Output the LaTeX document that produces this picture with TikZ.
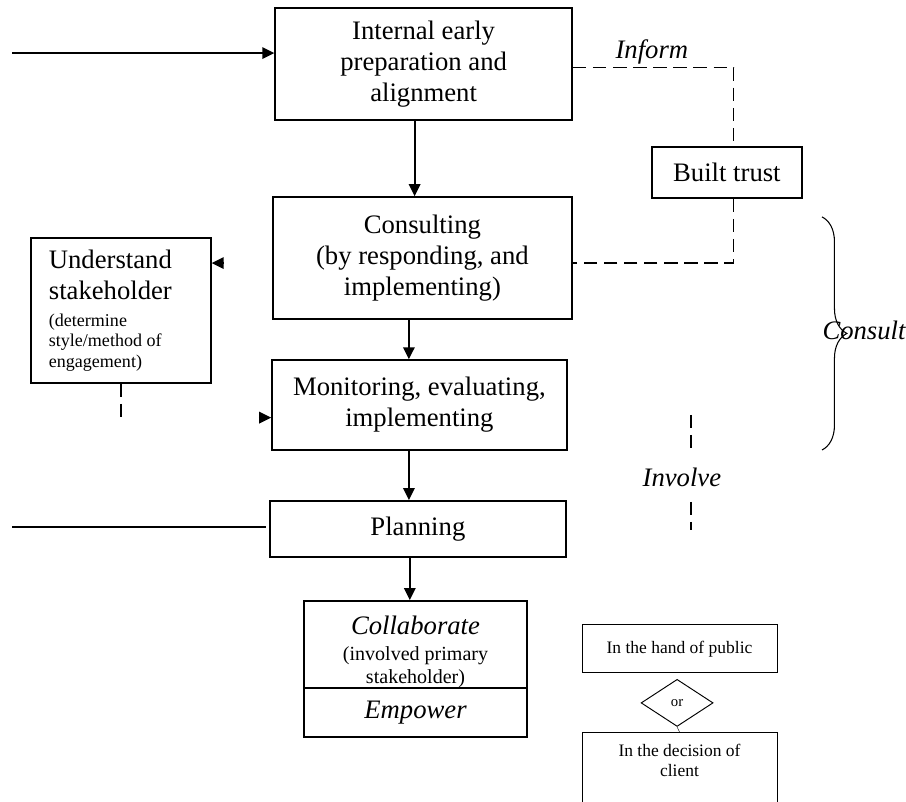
\documentclass[tikz,border=0pt]{standalone}
\usepackage{fontspec}
\setmainfont{Liberation Serif}
\usetikzlibrary{shapes,arrows.meta,positioning,calc,decorations.pathreplacing}

\newcommand\boxfont{\fontsize{25.3}{29.4}\selectfont}
\newcommand\notefont{\fontsize{17.1}{19.4}\selectfont}
\newcommand\subfont{\fontsize{19}{21.8}\selectfont}
\newcommand\sidefont{\fontsize{16.6}{19}\selectfont}

\begin{document}
\begin{tikzpicture}[
box/.style={
    draw,
    rectangle,
    line width=1.4pt,
    align=flush center,
    inner sep=0pt,
    font=\boxfont
},
thinbox/.style={
    draw,
    rectangle,
    line width=0.9pt,
    align=flush center,
    inner sep=0pt,
    font=\sidefont
},
flow/.style={-{Triangle[length=0.4cm,width=0.38cm]}, line width=1.8pt},
dashline/.style={dash pattern=on 0.45cm off 0.22cm, line width=1.2pt},
every node/.style={font=\boxfont}
]
\useasboundingbox (0,0) rectangle (30.2,26.7);
\clip (0,0) rectangle (30.2,26.7);

\node[box, minimum width=9.9cm, minimum height=3.73cm] (prep) at (14.12,24.57)
    {Internal early\\preparation and\\alignment};

\node[box, minimum width=9.97cm, minimum height=4.07cm] (consulting) at (14.08,18.1)
    {Consulting\\(by responding, and\\implementing)};

\node[box, minimum width=9.83cm, minimum height=3.0cm] (monitoring) at (13.98,13.2)
    {Monitoring, evaluating,\\implementing};

\node[box, minimum width=9.87cm, minimum height=1.87cm] (planning) at (13.93,9.07)
    {Planning};

\node[box, minimum width=7.43cm, minimum height=2.9cm, text width=7.0cm] (collab) at (13.85,5.22)
    {{\rule{0pt}{1.09cm}\itshape Collaborate\par}\vspace{3pt}{\subfont (involved primary\\stakeholder)\par}};

\node[box, minimum width=7.43cm, minimum height=1.63cm] (empower) at (13.85,2.95)
    {\itshape Empower};

\node[box, align=flush left, text width=4.8cm, inner xsep=0.6cm, minimum width=6cm,
      minimum height=4.83cm] (understand) at (4.03,16.35)
    {Understand\\stakeholder\par\vspace{6pt}{\notefont (determine\\style/method of\\engagement)\par}};

\node[box, minimum width=5.0cm, minimum height=1.7cm] (trust) at (24.23,20.95)
    {Built trust};

\node[thinbox, minimum width=6.5cm, minimum height=1.6cm] (public) at (22.65,5.07)
    {In the hand of public};

\node[draw, diamond, line width=0.9pt, minimum width=2.4cm, minimum height=1.57cm,
      inner sep=0pt, font=\fontsize{14}{16}\selectfont] (ornode) at (22.57,3.27) {or};

\node[thinbox, anchor=north, minimum width=6.5cm, text width=6.2cm, inner ysep=0.4cm,
      text depth=2.5cm] (decision) at (22.65,2.3)
    {In the decision of\\client};

\node[font=\boxfont\itshape] (inform) at (21.73,24.97) {Inform};
\node[font=\boxfont\itshape] (consultlbl) at (28.8,15.67) {Consult};
\node[font=\boxfont\itshape] (involve) at (22.73,10.8) {Involve};

% inputs
\coordinate (in1) at (0.4,24.93);
\draw[flow] (in1) -- (in1 -| prep.west);
\coordinate (in2) at (0.4,9.13);
\draw[line width=1.6pt, shorten >=0.1cm] (in2) -- (in2 -| planning.west);

% main flow
\draw[flow] ($(prep.south)+(-0.3,0)$) coordinate (a1) -- (a1 |- consulting.north);
\draw[flow] ($(consulting.south)+(-0.45,0)$) coordinate (a2) -- (a2 |- monitoring.north);
\draw[flow] ($(monitoring.south)+(-0.35,0)$) coordinate (a3) -- (a3 |- planning.north);
\draw[flow] ($(planning.south)+(-0.27,0)$) coordinate (a4) -- (a4 |- collab.north);

% Consulting -- Understand -- Monitoring
\draw[flow, shorten <=1.62cm] ($(consulting.west)+(0,-0.17)$) coordinate (a5) -- (a5 -| understand.east);
\coordinate (undfoot) at ($(understand.south)+(0,-1.13)$);
\draw[dashline] (understand.south) -- (undfoot);
\draw[flow, shorten <=4.6cm] (undfoot) -- (undfoot -| monitoring.west);

% Inform -- Built trust
\draw[dashline] ($(prep.east)+(0,-0.13)$) -| ($(trust.north)+(0.23,0)$);
\draw[dashline] ($(trust.south)+(0.23,0)$) |- ($(consulting.east)+(0,-0.17)$);

% Consult brace
\coordinate (bracetop) at (27.4,19.47);
\coordinate (bracebot) at (27.4,11.7);
\draw[line width=1pt, decorate, decoration={brace, amplitude=0.83cm}] (bracetop) -- (bracebot);

% Involve
\draw[dashline] ($(involve)+(0.3,2.07)$) -- ($(involve)+(0.3,0.9)$);
\draw[dashline] ($(involve)+(0.3,-0.83)$) -- ($(involve)+(0.3,-1.77)$);

% or -- decision
\draw[line width=0.4pt] (ornode.south) -- (decision.north);

\end{tikzpicture}
\end{document}
